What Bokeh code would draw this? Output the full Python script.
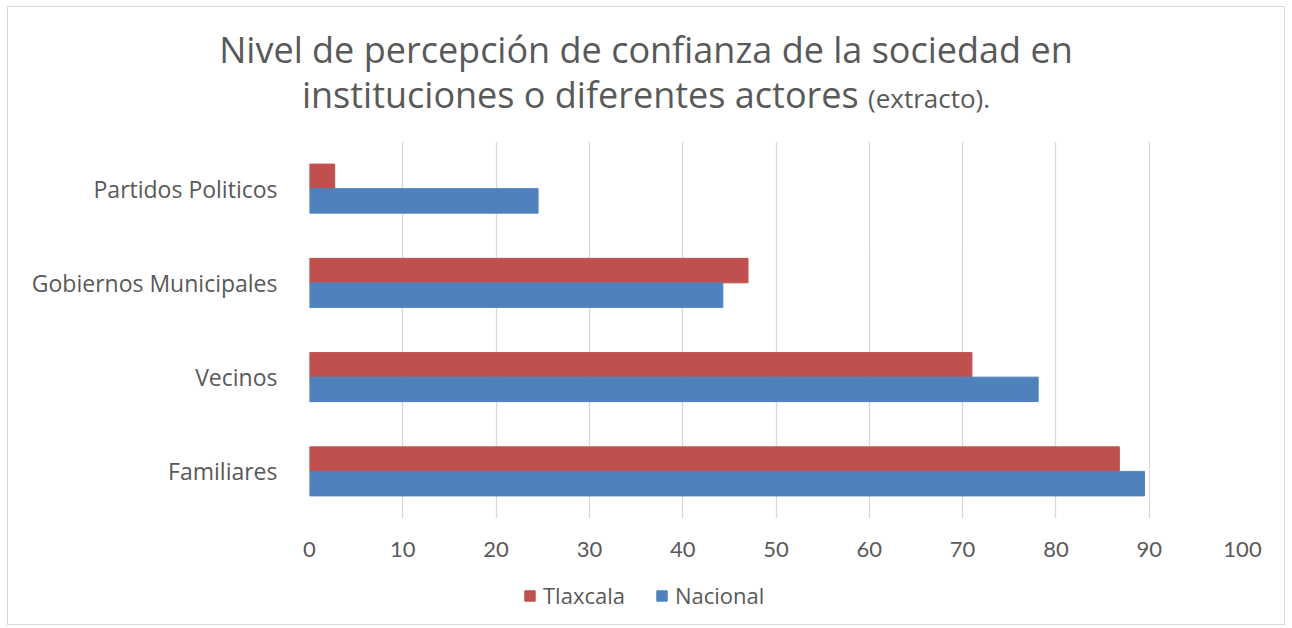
from bokeh.plotting import figure
from bokeh.layouts import column
from bokeh.models import FactorRange, Legend, LegendItem, ColumnDataSource, FixedTicker, Div
from bokeh.transform import dodge
from bokeh.embed import file_html
from bokeh.resources import INLINE

categories = ["Familiares", "Vecinos", "Gobiernos Municipales", "Partidos Politicos"]
tlaxcala = [86.8, 71.0, 47.0, 2.7]
nacional = [89.5, 78.1, 44.3, 24.5]
x_ticks = [0, 10, 20, 30, 40, 50, 60, 70, 80, 90, 100]
series_names = ["Tlaxcala", "Nacional"]
series_colors = ["#C0504D", "#4F81BD"]
title_line1 = "Nivel de percepción de confianza de la sociedad en"
title_line2 = "instituciones o diferentes actores"
title_note = "(extracto)."

TXT = "#595959"
W = 1276
H_TITLE, H_MAIN, H_LEG = 134, 432, 51
BL, BR = 301, 42

# ---- title ----
title_html = (
    f'<div style="width:{W - 12}px;padding:20px 0 0 12px;margin:0;text-align:center;'
    f'font-family:\'Open Sans\';font-size:36px;line-height:45px;color:{TXT};white-space:nowrap;">'
    f'{title_line1}<br>{title_line2} <span style="font-size:26px;">{title_note}</span></div>'
)
pt = Div(text=title_html, width=W, height=H_TITLE, margin=0)

# ---- main chart ----
src = ColumnDataSource(dict(cat=categories, tlax=tlaxcala, nac=nacional))
p = figure(width=W, height=H_MAIN, output_backend="svg", toolbar_location=None,
           title_location=None,
           y_range=FactorRange(factors=categories), x_range=(0, 100),
           min_border_left=BL, min_border_right=BR, min_border_top=0, min_border_bottom=55)
p.outline_line_color = None
p.ygrid.grid_line_color = None
p.xgrid.grid_line_color = "#d9d9d9"
p.xgrid.grid_line_width = 1.3
p.xaxis.ticker = FixedTicker(ticks=x_ticks)

p.hbar(y=dodge("cat", 0.13, range=p.y_range), right="tlax", left=0, height=0.26, source=src,
       fill_color=series_colors[0], line_color=series_colors[0])
p.hbar(y=dodge("cat", -0.13, range=p.y_range), right="nac", left=0, height=0.26, source=src,
       fill_color=series_colors[1], line_color=series_colors[1])

for ax in (p.xaxis[0], p.yaxis[0]):
    ax.axis_line_color = None
    ax.major_tick_line_color = None
    ax.minor_tick_line_color = None
    ax.major_label_text_color = TXT
p.xaxis.major_label_text_font = "Lato"
p.xaxis.major_label_text_font_size = "22px"
p.xaxis.major_label_standoff = 17
p.yaxis.major_label_text_font = "Open Sans"
p.yaxis.major_label_text_font_size = "23px"
p.yaxis.major_label_standoff = 26

# ---- legend ----
pl = figure(width=W, height=H_LEG, output_backend="svg", toolbar_location=None,
            title_location=None, x_range=(0, 1), y_range=(0, 1),
            min_border_left=BL, min_border_right=BR, min_border_top=0, min_border_bottom=0)
pl.axis.visible = False
pl.grid.visible = False
pl.outline_line_color = None
items = []
nan = float("nan")
for name, col in zip(series_names, series_colors):
    r = pl.hbar(y=[nan], right=[nan], left=0, height=1, fill_color=col, line_color=col)
    items.append(LegendItem(label=name, renderers=[r]))
legend = Legend(items=items, orientation="horizontal", location=(214, 14),
                label_text_font="Open Sans", label_text_font_size="22px", label_text_color=TXT,
                glyph_width=13, glyph_height=13, label_standoff=7, spacing=30,
                border_line_color=None, background_fill_alpha=0, margin=0, padding=4)
pl.add_layout(legend, "center")

layout = column(pt, p, pl, spacing=0)
layout.styles = {"border": "1px solid #d9d9d9", "margin-left": "7px", "margin-top": "6px"}

open("out.html", "w").write(file_html(layout, INLINE))
